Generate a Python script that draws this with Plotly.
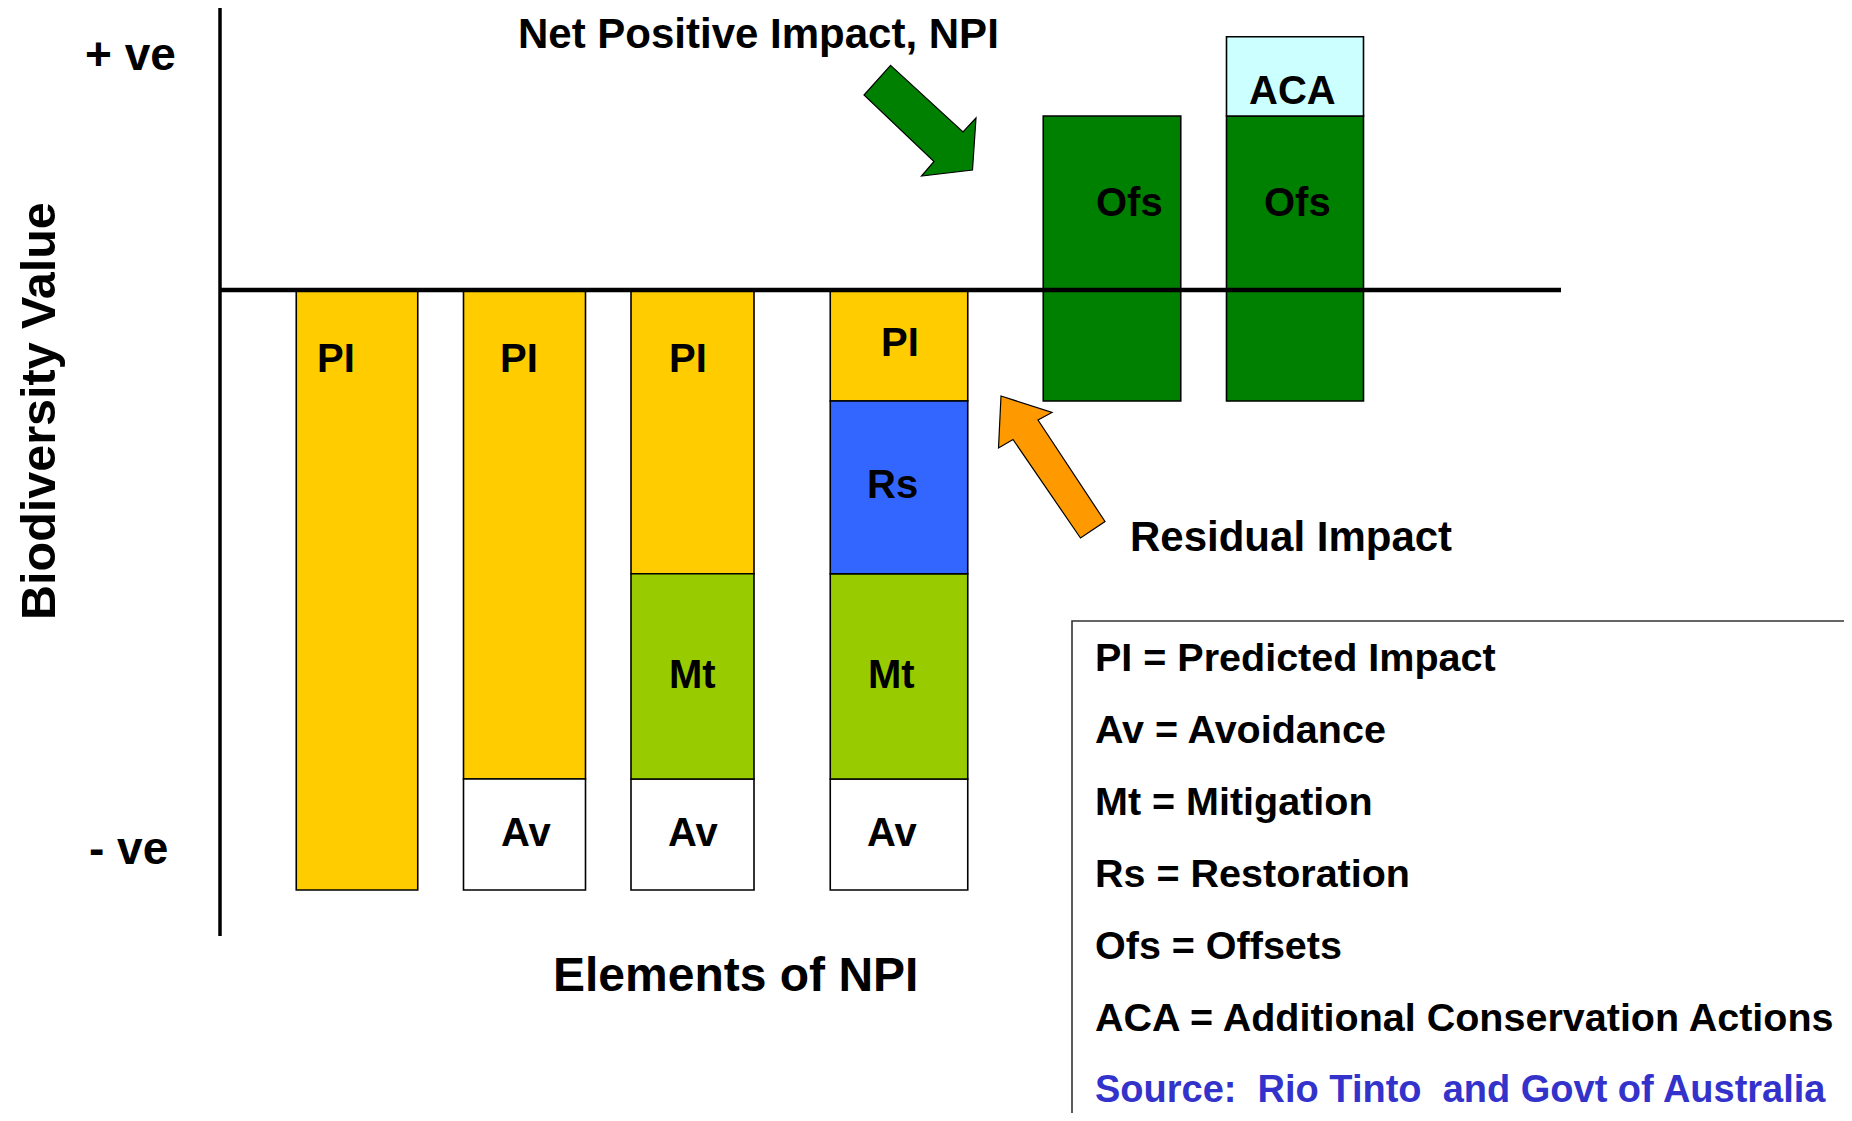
import plotly.graph_objects as go

# ---------------- data (biodiversity value units; baseline = 0, full negative impact = -10)
columns = ["Predicted impact", "Avoidance", "Mitigation", "Restoration", "Offsets", "Additional actions"]
seg_column = [0, 1, 1, 2, 2, 2, 3, 3, 3, 3, 4, 5, 5]
seg_kind = ["PI", "PI", "Av", "PI", "Mt", "Av", "PI", "Rs", "Mt", "Av", "Ofs", "Ofs", "ACA"]
seg_base = [0, 0, -8.15, 0, -4.73, -8.15, 0, -1.85, -4.73, -8.15, -1.85, -1.85, 2.9]
seg_size = [-10, -8.15, -1.85, -4.73, -3.42, -1.85, -1.85, -2.88, -3.42, -1.85, 4.75, 4.75, 1.32]

legend_lines = [
    "PI = Predicted Impact",
    "Av = Avoidance",
    "Mt = Mitigation",
    "Rs = Restoration",
    "Ofs = Offsets",
    "ACA = Additional Conservation Actions",
]
source_text = "Source:\u00a0\u00a0Rio Tinto\u00a0\u00a0and Govt of Australia"

# ---------------- layout constants (page pixels; the page body has an 8px margin)
PAGE_W, PAGE_H = 1852, 1121
OFF = 8
W, H = PAGE_W - 2 * OFF, PAGE_H - 2 * OFF
BASE_PX = 290          # page pixel row of the zero line
PX_PER_UNIT = 60.0
col_center = [357, 524.5, 692.5, 899, 1112, 1295]
col_width = [121.5, 122, 123, 137.5, 137.5, 137]
colors = {"PI": "#FFCC00", "Av": "#FFFFFF", "Mt": "#99CC00", "Rs": "#3366FF",
          "Ofs": "#008000", "ACA": "#CCFFFF"}
# label placement per segment: (page y pixel, x shift)
label_pos = [(358, -21), (358, -6), (832, 1), (358, -5), (674, 0), (832, 0),
             (342, 1), (484, -7), (674, -8), (832, -7), (202, 17), (202, 2), (90, -3)]

FONT = "Liberation Sans, Arial, sans-serif"

def val(ypage):
    return (BASE_PX - ypage) / PX_PER_UNIT

def px(x):
    return (x - OFF) / W

def py(y):
    return 1 - (y - OFF) / H

fig = go.Figure()

for kind in ["PI", "Av", "Mt", "Rs", "Ofs", "ACA"]:
    idx = [i for i, k in enumerate(seg_kind) if k == kind]
    fig.add_trace(go.Bar(
        x=[col_center[seg_column[i]] for i in idx],
        y=[seg_size[i] for i in idx],
        base=[seg_base[i] for i in idx],
        width=[col_width[seg_column[i]] for i in idx],
        marker=dict(color=colors[kind], line=dict(color="black", width=1.6)),
        name=kind, showlegend=False, hoverinfo="skip",
    ))

annotations = []
for i, k in enumerate(seg_kind):
    ypix, xs = label_pos[i]
    annotations.append(dict(
        x=col_center[seg_column[i]], y=val(ypix), xref="x", yref="y",
        text="<b>%s</b>" % k, showarrow=False, xshift=xs,
        font=dict(family=FONT, size=40, color="black"),
        xanchor="center", yanchor="middle"))

def txt(x, y, t, size, anchor="center", color="black", angle=0):
    annotations.append(dict(
        x=px(x), y=py(y), xref="paper", yref="paper", text="<b>%s</b>" % t,
        showarrow=False, font=dict(family=FONT, size=size, color=color),
        xanchor=anchor, yanchor="middle", textangle=angle, borderpad=0))

txt(758, 33, "Net Positive Impact, NPI", 42)
txt(1291, 536, "Residual Impact", 42)
txt(735, 974, "Elements of NPI", 48)
txt(38, 411, "Biodiversity Value", 48.5, angle=-90)
txt(130, 54, "+ ve", 46)
txt(128, 848, "- ve", 46)

legend_y = [657, 729, 801, 873, 945, 1017]
for t, yy in zip(legend_lines, legend_y):
    txt(1094, yy, t, 39.5, anchor="left")
txt(1094, 1089, source_text, 38, anchor="left", color="#3333CC")

shapes = []
# axes
shapes.append(dict(type="line", xref="paper", yref="paper", x0=px(220), x1=px(220),
                   y0=py(6), y1=py(936), line=dict(color="black", width=3.5), layer="above"))
shapes.append(dict(type="line", xref="paper", yref="y", x0=px(220), x1=px(1561),
                   y0=0, y1=0, line=dict(color="black", width=4.5), layer="above"))

def poly(points, fill):
    d = "M " + " L ".join("%f,%f" % (px(a), py(b)) for a, b in points) + " Z"
    return dict(type="path", xref="paper", yref="paper", path=d, fillcolor=fill,
                line=dict(color="black", width=1.2), layer="above")

green_arrow = [(890.6, 65.4), (963, 132), (976, 118), (972.5, 170), (921.5, 176), (934, 161.5), (864, 95)]
orange_arrow = [(1001, 396), (1052, 412.5), (1038, 420), (1105, 521.5), (1080.5, 538), (1013, 439.5), (998.5, 448)]
shapes.append(poly(green_arrow, "#008000"))
shapes.append(poly(orange_arrow, "#FF9900"))

# legend box (runs off the right and bottom edges)
shapes.append(dict(type="rect", xref="paper", yref="paper", x0=px(1072), x1=1.05,
                   y0=-0.05, y1=py(621), line=dict(color="#333333", width=1.6),
                   fillcolor="rgba(0,0,0,0)", layer="above"))

fig.update_layout(
    width=W, height=H, margin=dict(l=0, r=0, t=0, b=0),
    paper_bgcolor="white", plot_bgcolor="white", barmode="overlay",
    xaxis=dict(range=[OFF, OFF + W], visible=False, fixedrange=True),
    yaxis=dict(range=[val(OFF + H), val(OFF)], visible=False, fixedrange=True),
    annotations=annotations, shapes=shapes, showlegend=False,
)

fig.write_html("out.html")
